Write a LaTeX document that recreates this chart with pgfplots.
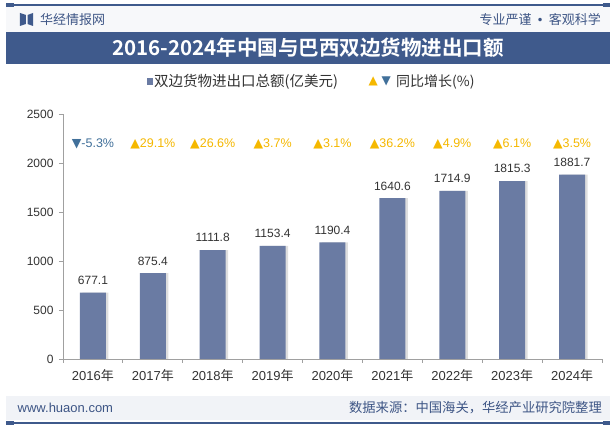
\documentclass[border=0pt]{standalone}
\usepackage{pgfplots}
\pgfplotsset{compat=1.18}
\usepackage{fontspec}
\setmainfont{Liberation Sans}
\newfontfamily\cjk{Noto Sans CJK SC}
\newfontfamily\cjkbold{Noto Sans CJK SC Bold}
\newfontfamily\dejavu{DejaVu Sans}
\usetikzlibrary{shadows}
\pgfdeclarelayer{background}
\pgfsetlayers{background,main}
\definecolor{hdr}{HTML}{3F5A8C}
\definecolor{hdrtxt}{HTML}{3D5585}
\definecolor{barc}{HTML}{6A7BA3}
\definecolor{upc}{HTML}{F5B800}
\definecolor{downc}{HTML}{41709A}
\definecolor{txt}{HTML}{333333}
\definecolor{axisgray}{HTML}{A0A0A0}
\definecolor{footbg}{HTML}{F1F3F7}
\definecolor{headbg}{HTML}{F7F8FA}
\newcommand\uptri{{\dejavu\char"25B2}}
\newcommand\dntri{{\dejavu\char"25BC}}
\begin{document}
\begin{tikzpicture}[x=1pt,y=1pt]
\begin{axis}[
  name=ax,
  scale only axis, width=539pt, height=245pt,
  xmin=-0.5, xmax=8.5, ymin=0, ymax=2500,
  axis x line*=bottom, axis y line*=left,
  axis line style={draw=axisgray, line width=0.8pt},
  xtick={-0.5,0.5,...,8.5}, x tick label as interval,
  xticklabels={2016{\cjk 年},2017{\cjk 年},2018{\cjk 年},2019{\cjk 年},2020{\cjk 年},2021{\cjk 年},2022{\cjk 年},2023{\cjk 年},2024{\cjk 年}},
  ytick={0,500,...,2500},
  tick align=outside, major tick length=4pt,
  tick style={draw=axisgray, line width=0.8pt},
  yticklabel style={font=\fontsize{12}{14}\selectfont, text=txt, xshift=-2pt},
  xticklabel style={font=\fontsize{13}{15}\selectfont, text=txt, yshift=-3pt},
  /pgf/number format/assume math mode=true,
  /pgf/number format/1000 sep={},
  clip=false,
]
\coordinate (O) at (rel axis cs:0,0);
\addplot[ybar, bar width=26pt, fill=barc, draw=none,
  drop shadow={shadow xshift=2.5pt, shadow yshift=0pt, opacity=0.13, fill=black},
  point meta=explicit symbolic, nodes near coords,
  nodes near coords style={font=\fontsize{12}{14}\selectfont, text=txt, anchor=south, yshift=4.5pt}]
coordinates {(0,677.1)[677.1] (1,875.4)[875.4] (2,1111.8)[1111.8] (3,1153.4)[1153.4] (4,1190.4)[1190.4] (5,1640.6)[1640.6] (6,1714.9)[1714.9] (7,1815.3)[1815.3] (8,1881.7)[1881.7]};
\addplot[draw=none, no marks, point meta=explicit symbolic,
  nodes near coords={\dntri\pgfplotspointmeta\%},
  nodes near coords style={font=\fontsize{12.5}{14}\selectfont, text=downc, anchor=center}]
coordinates {(0,2194)[-5.3]};
\addplot[draw=none, no marks, point meta=explicit symbolic,
  nodes near coords={\uptri\pgfplotspointmeta\%},
  nodes near coords style={font=\fontsize{12.5}{14}\selectfont, text=upc, anchor=center}]
coordinates {(1,2194)[29.1] (2,2194)[26.6] (3,2194)[3.7] (4,2194)[3.1] (5,2194)[36.2] (6,2194)[4.9] (7,2194)[6.1] (8,2194)[3.5]};
\end{axis}
\begin{scope}[shift={(O)}, xshift=-63pt, yshift=-68pt]
\begin{pgfonlayer}{background}
\fill[white] (0,0) rectangle (615,427);
\end{pgfonlayer}
\path[use as bounding box] (0,0) rectangle (615,427);
% top line
\fill[headbg] (6,395) rectangle (610,421);
\draw[hdr, line width=1.2pt] (6,422) -- (609,422);
\fill[hdr] (6,420.3) rectangle (14,423.7);
\fill[hdr] (603,420.3) rectangle (610,423.7);
% logo
\fill[hdr] (20,414) -- (26,412) -- (26,403) -- (20,401) -- cycle;
\fill[hdr] (27.5,412) -- (33,414) -- (33,401) -- (27.5,403) -- cycle;
\node[anchor=west, text=hdrtxt, font=\fontsize{13}{15}\selectfont\cjk, inner sep=0] at (40,407.5) {华经情报网};
\node[anchor=east, text=hdrtxt, font=\fontsize{13}{15}\selectfont\cjk, inner sep=0] at (601,407.5) {专业严谨\hspace{5pt}{\dejavu\fontsize{12}{12}\selectfont\char"2022}\hspace{5pt}客观科学};
% title band
\fill[hdr] (6,363) rectangle (610,395);
\node[text=white, font=\fontsize{20.5}{23}\selectfont\cjkbold, inner sep=0] at (308,379) {2016-2024年中国与巴西双边货物进出口额};
% legend
\fill[barc] (147,341.5) rectangle (152.5,348.5);
\node[anchor=west, text=txt, font=\fontsize{14.5}{16}\selectfont\cjk, inner sep=0] at (154,345.5) {双边货物进出口总额(亿美元)};
\node[anchor=west, text=upc, font=\fontsize{12}{13}\selectfont, inner sep=0] at (368.5,345.5) {\uptri};
\node[anchor=west, text=downc, font=\fontsize{12}{13}\selectfont, inner sep=0] at (381.5,345.5) {\dntri};
\node[anchor=west, text=txt, font=\fontsize{14}{16}\selectfont\cjk, inner sep=0] at (396,345.5) {同比增长(\%)};
% footer
\fill[footbg] (6,7) rectangle (610,31);
\draw[hdr, line width=1.2pt] (6,4) -- (609,4);
\fill[hdr] (6,2.3) rectangle (14,5.7);
\fill[hdr] (603,2.3) rectangle (610,5.7);
\node[anchor=west, text=hdrtxt, font=\fontsize{13}{15}\selectfont, inner sep=0] at (17.5,19) {www.huaon.com};
\node[anchor=east, text=hdrtxt, font=\fontsize{13.3}{15}\selectfont\cjk, inner sep=0] at (602,19) {数据来源：中国海关，华经产业研究院整理};
\end{scope}
\end{tikzpicture}
\end{document}
